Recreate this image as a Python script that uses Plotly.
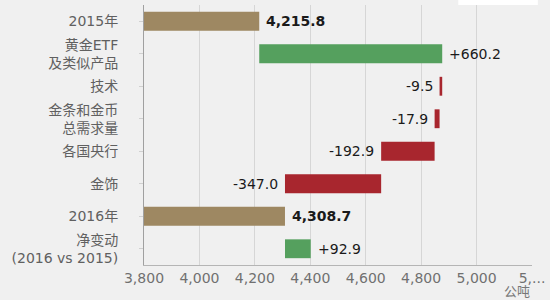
import plotly.graph_objects as go

categories = ["2015年", "黄金ETF<br>及类似产品", "技术", "金条和金币<br>总需求量", "各国央行", "金饰", "2016年", "净变动<br>(2016 vs 2015)"]
values = [4215.8, 660.2, -9.5, -17.9, -192.9, -347.0, 4308.7, 92.9]
kinds = ["total", "delta", "delta", "delta", "delta", "delta", "total", "net"]
labels = ["4,215.8", "+660.2", "-9.5", "-17.9", "-192.9", "-347.0", "4,308.7", "+92.9"]
tick_vals = [3800, 4000, 4200, 4400, 4600, 4800, 5000, 5200]
tick_text = ["3,800", "4,000", "4,200", "4,400", "4,600", "4,800", "5,000", "5,..."]
unit = "公吨"

AXIS_MIN = 3800
TAN, GREEN, RED = "#9E8862", "#55A05E", "#A8262E"
FONT = "DejaVu Sans, Noto Sans CJK SC, sans-serif"

bases, lengths, colors = [], [], []
running = 0.0
for v, k in zip(values, kinds):
    if k == "total":
        bases.append(AXIS_MIN)
        lengths.append(v - AXIS_MIN)
        colors.append(TAN)
        running = v
    elif k == "net":
        bases.append(running)
        lengths.append(v)
        colors.append(GREEN if v >= 0 else RED)
    else:
        bases.append(running)
        lengths.append(v)
        colors.append(GREEN if v >= 0 else RED)
        running += v

fig = go.Figure(go.Bar(
    y=categories, x=lengths, base=bases, orientation="h",
    marker=dict(color=colors, line=dict(width=0)),
    width=0.58, hoverinfo="skip",
))

annotations = []
for cat, b, l, lab, k in zip(categories, bases, lengths, labels, kinds):
    lo, hi = min(b, b + l), max(b, b + l)
    if l >= 0:
        xa, anchor, shift = hi, "left", 5
    else:
        xa, anchor, shift = lo, "right", -5
    annotations.append(dict(
        x=xa, y=cat, xref="x", yref="y", text=f"<b>{lab}</b>" if k == "total" else lab,
        showarrow=False, xanchor=anchor, xshift=shift,
        font=dict(size=14, color="#1a1a1a", family=FONT),
    ))
annotations.append(dict(
    x=1.0, y=0, xref="paper", yref="paper", yshift=-17, xanchor="right", yanchor="top",
    text=unit, showarrow=False, font=dict(size=13, color="#777777", family=FONT),
))

fig.update_layout(
    width=550, height=300,
    margin=dict(l=144, r=18, t=5, b=35),
    paper_bgcolor="#F0F0F0", plot_bgcolor="#F0F0F0",
    font=dict(family=FONT, size=13, color="#666666"),
    showlegend=False,
    annotations=annotations,
    shapes=[dict(type="rect", xref="paper", yref="paper", x0=0.810, x1=1.015, y0=1.0, y1=1.02,
                 fillcolor="#FFFFFF", line=dict(width=0), layer="above")],
    xaxis=dict(
        range=[3800, 5200], tickvals=tick_vals, ticktext=tick_text,
        showgrid=True, gridcolor="#D6D6D6", gridwidth=1,
        zeroline=False, showline=True, linecolor="#B5B5B5", linewidth=1,
        tickfont=dict(size=14, color="#707070"), ticks="",
    ),
    yaxis=dict(
        autorange="reversed", showgrid=False, showline=True, linecolor="#A0A0A0", linewidth=1,
        ticks="outside", ticklen=4, tickcolor="#D0D0D0", ticklabelstandoff=18,
        tickfont=dict(size=14, color="#606060"),
    ),
)

fig.write_html("out.html")
